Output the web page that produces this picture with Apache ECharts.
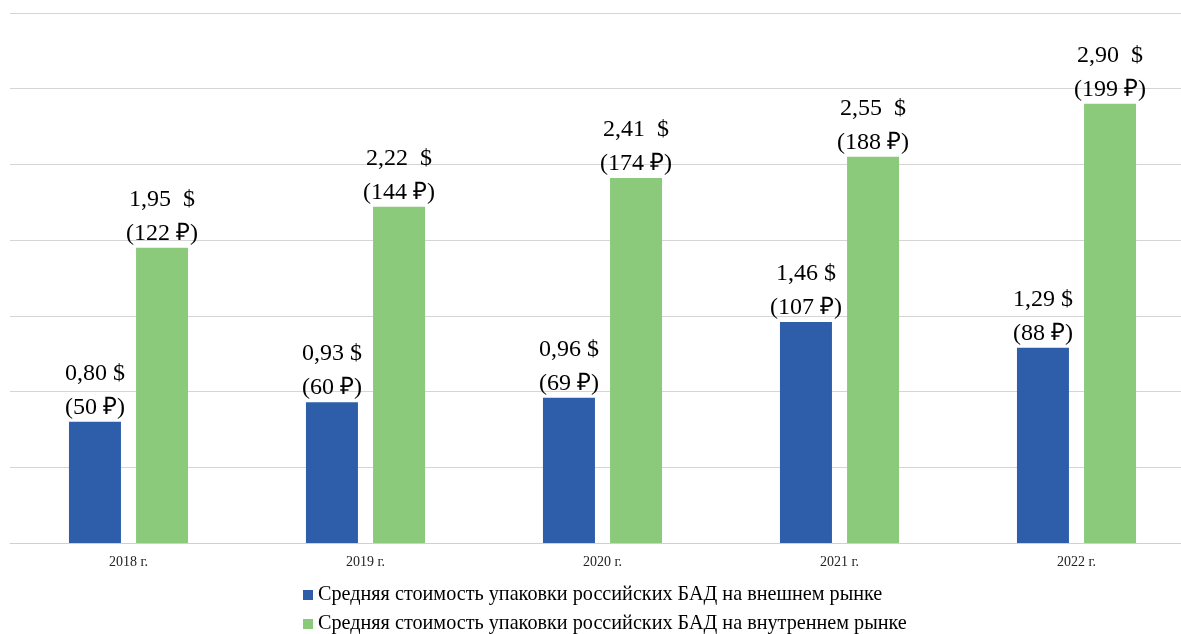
<!DOCTYPE html>
<html>
<head>
<meta charset="utf-8">
<script src="https://cdn.jsdelivr.net/npm/echarts@6/dist/echarts.min.js"></script>
<style>html,body{margin:0;padding:0;background:#fff;}#c{width:1181px;height:634px;}</style>
</head>
<body>
<div id="c"></div>
<script>
var categories = ['2018 г.', '2019 г.', '2020 г.', '2021 г.', '2022 г.'];
var seriesNames = [
  'Средняя стоимость упаковки российских БАД на внешнем рынке',
  'Средняя стоимость упаковки российских БАД на внутреннем рынке'
];
var usdExternal = [0.80, 0.93, 0.96, 1.46, 1.29];
var rubExternal = [50, 60, 69, 107, 88];
var usdInternal = [1.95, 2.22, 2.41, 2.55, 2.90];
var rubInternal = [122, 144, 174, 188, 199];
var yTicks = [0, 0.5, 1, 1.5, 2, 2.5, 3, 3.5];

function fmt(usd, rub, sep) {
  return function (p) {
    var i = p.dataIndex;
    return '{a|' + usd[i].toFixed(2).replace('.', ',') + sep + '$}\n{b|(' + rub[i] + ' ₽)}';
  };
}
var serif = '"Liberation Serif","Times New Roman",serif';
var labelCfg = function (f) {
  return {
    show: true, position: 'top', distance: -3, formatter: f,
    rich: {
      a: {fontFamily: serif, fontSize: 24, color: '#000', lineHeight: 34},
      b: {fontFamily: serif, fontSize: 24, color: '#000', lineHeight: 34}
    }
  };
};

var chart = echarts.init(document.getElementById('c'), null, {renderer: 'canvas'});
chart.setOption({
  animation: false,
  backgroundColor: '#fff',
  grid: {left: 10, top: 13, width: 1185, height: 530, outerBoundsMode: 'none', containLabel: false},
  legend: {
    orient: 'vertical', left: 303, top: 585, height: 60, padding: 0,
    itemWidth: 10, itemHeight: 10, itemGap: 9,
    icon: 'rect',
    textStyle: {fontFamily: serif, fontSize: 20.2, color: '#000', padding: [0, 0, 0, 0]},
    data: seriesNames
  },
  xAxis: {
    type: 'category', data: categories,
    axisTick: {show: false},
    axisLine: {lineStyle: {color: '#d0d0d0', width: 1}},
    axisLabel: {fontFamily: serif, fontSize: 14, color: '#222', margin: 12}
  },
  yAxis: {
    type: 'value', min: yTicks[0], max: yTicks[yTicks.length - 1], interval: yTicks[1] - yTicks[0],
    axisLabel: {show: false}, axisLine: {show: false}, axisTick: {show: false},
    splitLine: {lineStyle: {color: '#d5d5d5', width: 1}}
  },
  series: [
    {
      name: seriesNames[0], type: 'bar', data: usdExternal,
      barWidth: 52, barGap: '29%',
      itemStyle: {color: '#2E5EAA'},
      label: labelCfg(fmt(usdExternal, rubExternal, ' '))
    },
    {
      name: seriesNames[1], type: 'bar', data: usdInternal,
      barWidth: 52,
      itemStyle: {color: '#8BC97B'},
      label: labelCfg(fmt(usdInternal, rubInternal, '  '))
    }
  ]
});
</script>
</body>
</html>
